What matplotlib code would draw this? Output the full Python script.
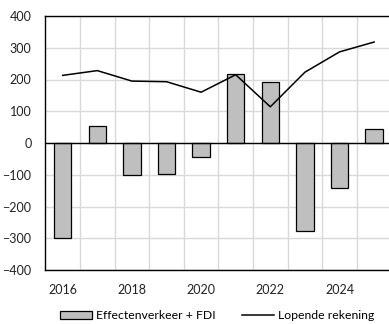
import matplotlib
matplotlib.use("Agg")
import matplotlib.pyplot as plt
from matplotlib.ticker import FixedLocator

years = [2016, 2017, 2018, 2019, 2020, 2021, 2022, 2023, 2024, 2025]
effecten_fdi = [-298, 55, -102, -97, -44, 217, 191, -277, -141, 43]
lopende_rekening = [213, 228, 195, 193, 160, 215, 114, 223, 287, 318]
xtick_labels = [2016, 2018, 2020, 2022, 2024]
ytick_values = [-400, -300, -200, -100, 0, 100, 200, 300, 400]

plt.rcParams['font.family'] = ['Lato', 'DejaVu Sans']

fig = plt.figure(figsize=(3.89, 3.24), dpi=100)
ax = fig.add_axes([45.4/389, 1-270/324, 1-45.4/389, (270-16)/324])

bars = ax.bar(years, effecten_fdi, width=0.5, color='#bfbfbf', edgecolor='black',
              linewidth=0.9, label='Effectenverkeer + FDI', zorder=3)
line, = ax.plot(years, lopende_rekening, color='black', linewidth=1.1,
                label='Lopende rekening', zorder=4)

ax.set_xlim(2015.5, 2025.43)
ax.set_ylim(-400, 400)
ax.xaxis.set_major_locator(FixedLocator(xtick_labels))
ax.xaxis.set_minor_locator(FixedLocator([y + 0.5 for y in years]))
ax.set_yticks(ytick_values)
ax.grid(True, which='minor', axis='x', color='#d9d9d9', linewidth=1.0, zorder=0)
ax.grid(True, which='major', axis='y', color='#d9d9d9', linewidth=1.0, zorder=0)
ax.grid(False, which='major', axis='x')
ax.axhline(0, color='black', linewidth=1.0, zorder=5)

for s in ['left', 'bottom', 'top']:
    ax.spines[s].set_color('black')
    ax.spines[s].set_linewidth(1.0)
ax.spines['right'].set_visible(False)

ax.tick_params(axis='both', which='both', length=0, labelsize=9, colors='#222222')
ax.tick_params(axis='x', pad=10)
ax.tick_params(axis='y', pad=10)

fig.legend([bars, line], ['Effectenverkeer + FDI', 'Lopende rekening'],
           loc='center', bbox_to_anchor=(217/389, 1-315.5/324),
           ncol=2, frameon=False, fontsize=8.8, handlelength=2.6, handleheight=0.6,
           handletextpad=0.3, columnspacing=2.2, borderaxespad=0)

fig.savefig('out.png', dpi=100)
